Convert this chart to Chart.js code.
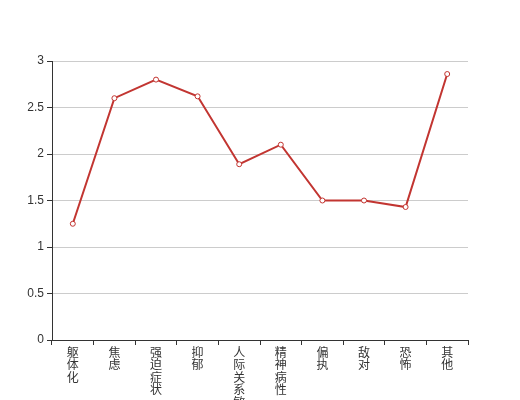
<!DOCTYPE html>
<html>
<head>
<meta charset="utf-8">
<script src="https://cdn.jsdelivr.net/npm/chart.js@4"></script>
<style>
  html, body { margin: 0; padding: 0; background: #fff; }
  #wrap { width: 520px; height: 400px; }
</style>
</head>
<body>
<div id="wrap"><canvas id="chart"></canvas></div>
<script>
const categories = ['躯体化', '焦虑', '强迫症状', '抑郁', '人际关系敏感', '精神病性', '偏执', '敌对', '恐怖', '其他'];
const scores = [1.25, 2.6, 2.8, 2.62, 1.89, 2.1, 1.5, 1.5, 1.43, 2.86];
const yTicks = [0, 0.5, 1, 1.5, 2, 2.5, 3];

// vertical labels: one character per line
const labels = categories.map(c => c.split(''));

const font = { family: "'Liberation Sans', 'Noto Sans CJK SC', sans-serif", size: 12 };

new Chart(document.getElementById('chart'), {
    type: 'line',
    data: {
        labels: labels,
        datasets: [{
            data: scores,
            borderColor: '#c23531',
            backgroundColor: '#fff',
            borderWidth: 2,
            pointRadius: 2.5,
            pointBorderWidth: 1,
            pointBackgroundColor: '#fff',
            pointBorderColor: '#c23531',
            tension: 0
        }]
    },
    options: {
        responsive: true,
        maintainAspectRatio: false,
        animation: false,
        layout: { padding: { top: 61, right: 52, left: 0, bottom: 0 } },
        plugins: { legend: { display: false }, tooltip: { enabled: false } },
        scales: {
            x: {
                offset: true,
                grid: { offset: true, drawOnChartArea: false, tickLength: 5, tickColor: '#333' },
                border: { color: '#333', width: 1 },
                ticks: { color: '#333', font: { ...font, lineHeight: 1.05 }, maxRotation: 0, autoSkip: false, padding: 2 },
                afterFit: axis => { axis.height = 60; }
            },
            y: {
                min: 0,
                max: 3,
                afterBuildTicks: axis => { axis.ticks = yTicks.map(v => ({ value: v })); },
                grid: { color: '#ccc', tickLength: 5, tickColor: '#333' },
                border: { color: '#333', width: 1 },
                ticks: { color: '#333', font: font, padding: 3, callback: v => String(v) },
                afterFit: axis => { axis.width = 52; }
            }
        }
    }
});
</script>
</body>
</html>
